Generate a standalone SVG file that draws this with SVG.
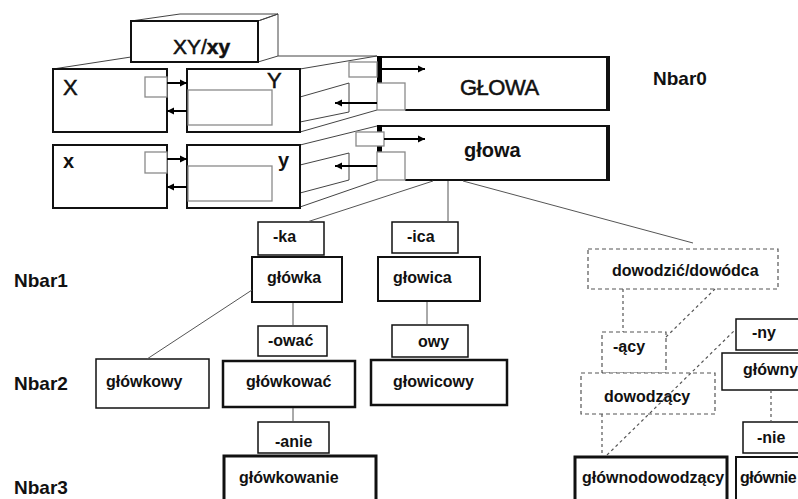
<svg xmlns="http://www.w3.org/2000/svg" width="798" height="499" viewBox="0 0 798 499">
<defs>
<marker id="ah" markerUnits="userSpaceOnUse" markerWidth="8" markerHeight="8" refX="7" refY="4" orient="auto"><path d="M0,0.5 L7,4 L0,7.5 z" fill="#000"/></marker>
<style>
.t{font-family:"Liberation Sans",Arial,sans-serif;fill:#111}
.b{font-weight:bold}
.thk{stroke:#111;stroke-width:0.5}
.lbl{font-family:"Liberation Sans",Arial,sans-serif;font-weight:bold;font-size:16px;fill:#111}
.nb{font-family:"Liberation Sans",Arial,sans-serif;font-weight:bold;font-size:19px;fill:#111}
.box{fill:#fff;stroke:#111}
.dash{fill:#fff;stroke:#555;stroke-width:1.2;stroke-dasharray:4 3}
.grey{fill:#fff;stroke:#8a8a8a;stroke-width:1.3}
.edge{stroke:#555;stroke-width:1;fill:none}
.dedge{stroke:#555;stroke-width:1.2;stroke-dasharray:3 3;fill:none}
.arr{stroke:#000;stroke-width:2;fill:none;marker-end:url(#ah)}
.face{stroke:#444;stroke-width:1;fill:none}
</style>
</defs>
<rect width="798" height="499" fill="#fff"/>

<!-- perspective faces of the head block -->
<g id="faces" class="face">
  <polygon points="131,21 180,14 278,14 258,21"/>
  <polygon points="258,21 278,14 278,56 258,62"/>
  <line x1="131" y1="57" x2="53" y2="69"/>
  <line x1="278" y1="56" x2="377" y2="56"/>
  <line x1="300" y1="69" x2="377" y2="56"/>
  <polyline points="300,97 349,83 349,112 300,122"/>
  <line x1="300" y1="132" x2="377" y2="110"/>
  <line x1="300" y1="145" x2="377" y2="126"/>
  <polyline points="300,165 349,153 349,180 300,193"/>
  <line x1="300" y1="207" x2="378" y2="180"/>
</g>

<g id="XYxy">
  <rect class="box" x="131" y="21" width="127" height="41" stroke-width="2"/>
  <text class="t thk" x="173" y="54" font-size="21">XY/<tspan font-weight="bold">xy</tspan></text>
</g>
<g id="X">
  <rect class="box" x="53" y="69" width="114" height="63" stroke-width="2"/>
  <rect class="grey" x="145" y="77" width="22" height="20"/>
  <text class="t thk" x="63" y="95" font-size="22">X</text>
</g>
<g id="Y">
  <rect class="box" x="187" y="69" width="113" height="63" stroke-width="2"/>
  <rect class="grey" x="188" y="90" width="84" height="35"/>
  <text class="t thk" x="267" y="88" font-size="22">Y</text>
</g>
<g id="x">
  <rect class="box" x="53" y="145" width="114" height="63" stroke-width="2"/>
  <rect class="grey" x="145" y="152" width="22" height="21"/>
  <text class="t b" x="63" y="168" font-size="20">x</text>
</g>
<g id="y">
  <rect class="box" x="187" y="145" width="113" height="63" stroke-width="2"/>
  <rect class="grey" x="188" y="166" width="84" height="35"/>
  <text class="t b" x="278" y="167" font-size="20">y</text>
</g>

<g id="GLOWA">
  <rect x="377" y="57" width="233" height="53" fill="#fff"/>
  <line x1="377" y1="57" x2="610" y2="57" stroke="#111" stroke-width="2"/>
  <line x1="608" y1="56" x2="608" y2="111" stroke="#111" stroke-width="4"/>
  <line x1="405" y1="110" x2="610" y2="110" stroke="#111" stroke-width="2"/>
  <rect x="377" y="56" width="5" height="27" fill="#000"/>
  <rect class="grey" x="349" y="62" width="28" height="15"/>
  <rect class="grey" x="377" y="83" width="28" height="27"/>
  <text class="t thk" x="460" y="95" font-size="22" letter-spacing="-0.5">GŁOWA</text>
</g>
<g id="glowa">
  <rect x="377" y="126" width="233" height="54" fill="#fff"/>
  <line x1="377" y1="126" x2="610" y2="126" stroke="#111" stroke-width="2"/>
  <line x1="608" y1="125" x2="608" y2="181" stroke="#111" stroke-width="4"/>
  <line x1="405" y1="180" x2="610" y2="180" stroke="#111" stroke-width="2"/>
  <rect x="377" y="125" width="5" height="27" fill="#000"/>
  <rect class="grey" x="356" y="132" width="28" height="14"/>
  <rect class="grey" x="377" y="152" width="28" height="28"/>
  <text class="t b" x="464" y="157" font-size="20">głowa</text>
</g>

<g id="levels">
  <text class="nb" x="14" y="287">Nbar1</text>
  <text class="nb" x="653" y="85">Nbar0</text>
  <text class="nb" x="14" y="390">Nbar2</text>
  <text class="nb" x="14" y="494">Nbar3</text>
</g>

<g id="n-ka"><rect class="box" x="258" y="222" width="66" height="33" stroke-width="1.5"/><text class="lbl" x="273" y="242">-ka</text></g>
<g id="n-glowka"><rect class="box" x="252" y="257" width="90" height="45" stroke-width="2"/><text class="lbl" x="267" y="283">główka</text></g>
<g id="n-owac"><rect class="box" x="258" y="326" width="69" height="30" stroke-width="1.5"/><text class="lbl" x="268" y="346">-ować</text></g>
<g id="n-glowkowy"><rect class="box" x="96" y="359" width="113" height="49" stroke-width="1.5"/><text class="lbl" x="106" y="387">główkowy</text></g>
<g id="n-glowkowac"><rect class="box" x="223" y="361" width="132" height="46" stroke-width="2.5"/><text class="lbl" x="246" y="387">główkować</text></g>
<g id="n-anie"><rect class="box" x="258" y="422" width="71" height="31" stroke-width="1.5"/><text class="lbl" x="275" y="447">-anie</text></g>
<g id="n-glowkowanie"><rect class="box" x="224" y="456" width="152" height="60" stroke-width="3"/><text class="lbl" x="239" y="483">główkowanie</text></g>
<g id="n-ica"><rect class="box" x="392" y="222" width="66" height="31" stroke-width="1.5"/><text class="lbl" x="407" y="242">-ica</text></g>
<g id="n-glowica"><rect class="box" x="378" y="257" width="102" height="44" stroke-width="2"/><text class="lbl" x="393" y="283">głowica</text></g>
<g id="n-owy"><rect class="box" x="392" y="325" width="76" height="32" stroke-width="1.5"/><text class="lbl" x="418" y="347">owy</text></g>
<g id="n-glowicowy"><rect class="box" x="371" y="360" width="136" height="45" stroke-width="2.5"/><text class="lbl" x="393" y="387">głowicowy</text></g>
<g id="n-dowodzic"><rect class="dash" x="588" y="249" width="190" height="40"/><text class="lbl" x="612" y="276">dowodzić/dowódca</text></g>
<g id="n-acy"><rect class="dash" x="602" y="332" width="64" height="41"/><text class="lbl" x="613" y="352">-ący</text></g>
<g id="n-dowodzacy"><rect class="dash" x="581" y="373" width="134" height="41"/><text class="lbl" x="604" y="402">dowodzący</text></g>
<g id="n-ny"><rect class="box" x="736" y="319" width="80" height="31" stroke-width="1.5"/><text class="lbl" x="752" y="338">-ny</text></g>
<g id="n-glowny"><rect class="box" x="722" y="353" width="90" height="37" stroke-width="1.5"/><text class="lbl" x="743" y="375">główny</text></g>
<g id="n-nie"><rect class="box" x="743" y="422" width="70" height="31" stroke-width="1.5"/><text class="lbl" x="757" y="443">-nie</text></g>
<g id="n-glownodowodzacy"><rect class="box" x="575" y="457" width="152" height="60" stroke-width="3"/><text class="lbl" x="582" y="483">głównodowodzący</text></g>
<g id="n-glownie"><rect class="box" x="736" y="457" width="80" height="60" stroke-width="2"/><text class="lbl" x="740" y="483" letter-spacing="-0.5">głównie</text></g>

<!-- connectors, drawn above the boxes -->
<g id="connectors">
  <line class="edge" x1="433" y1="181" x2="307" y2="222"/>
  <line class="edge" x1="448" y1="181" x2="448" y2="222"/>
  <line class="edge" x1="463" y1="181" x2="693" y2="243"/>
  <line class="edge" x1="252" y1="290" x2="147" y2="359"/>
  <line class="edge" x1="293" y1="303" x2="293" y2="325"/>
  <line class="edge" x1="293" y1="408" x2="293" y2="421"/>
  <line class="edge" x1="427" y1="302" x2="427" y2="324"/>
  <line class="dedge" x1="623" y1="289" x2="623" y2="332"/>
  <line class="dedge" x1="666" y1="337" x2="715" y2="289"/>
  <line class="dedge" x1="602" y1="414" x2="602" y2="456"/>
  <line class="dedge" x1="607" y1="455" x2="736" y2="329"/>
  <line class="dedge" x1="771" y1="390" x2="771" y2="422"/>
  <line class="arr" x1="167" y1="83" x2="187" y2="83"/>
  <line class="arr" x1="187" y1="111" x2="167" y2="111"/>
  <line class="arr" x1="167" y1="159" x2="187" y2="159"/>
  <line class="arr" x1="187" y1="187" x2="167" y2="187"/>
  <line class="arr" x1="382" y1="69" x2="425" y2="69"/>
  <line class="arr" x1="377" y1="103" x2="335" y2="103"/>
  <line class="arr" x1="384" y1="139" x2="425" y2="139"/>
  <line class="arr" x1="377" y1="166" x2="335" y2="166"/>
</g>
</svg>
